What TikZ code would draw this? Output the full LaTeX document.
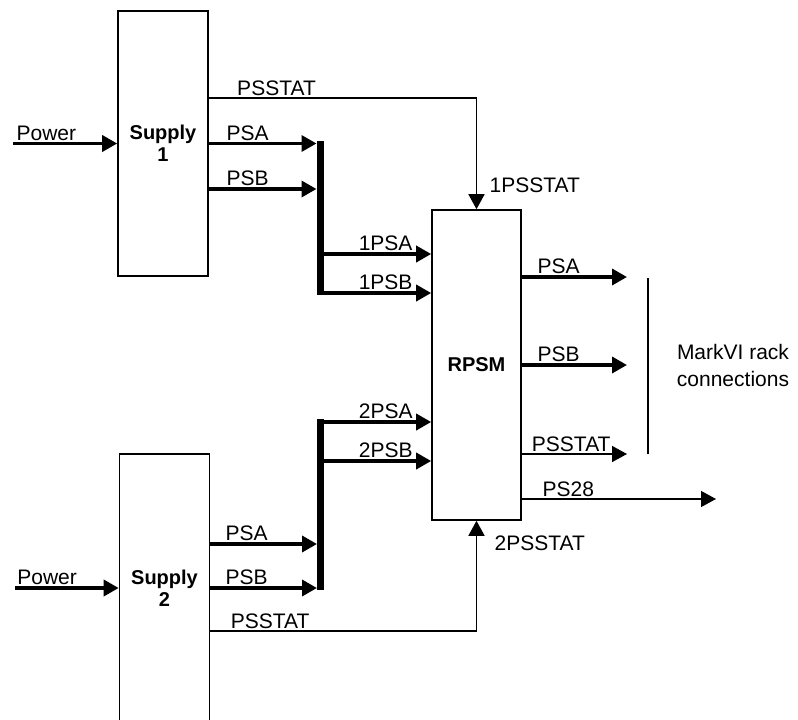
\documentclass[tikz,border=0pt]{standalone}
\usepackage{fontspec}
\setmainfont{Liberation Sans}
\usetikzlibrary{arrows.meta,positioning}
\tikzset{
  unitbox/.style={draw,line width=1.6pt,minimum width=90pt,inner sep=0pt,align=center,font=\bfseries\fontsize{20}{22}\selectfont},
  sigline/.style={line width=3.5pt,-{Triangle[length=15pt,width=16pt]}},
  statline/.style={line width=1.6pt,-{Triangle[length=15pt,width=16pt]}},
  busline/.style={line width=7pt},
  lbl/.style={font=\fontsize{21}{27}\selectfont,inner sep=1.5pt,above}
}

\begin{document}
\begin{tikzpicture}[x=1pt,y=-1pt]
\clip (0,0) rectangle (798,720);
\node[unitbox,minimum height=265pt] (s1) at (163,143.5) {Supply\\1};
\node[unitbox,minimum height=268pt] (s2) at (164.5,588) {Supply\\2};
\node[unitbox,minimum width=89pt,minimum height=310pt] (rpsm) at (476.5,365) {RPSM};
% supply 1
\coordinate (pw1) at (13,143.5);
\draw[sigline] (pw1) -- node[lbl,pos=.32] (lpw1) {Power} (s1.west);
\coordinate (st1) at (300,98);
\draw[statline] (s1.east |- st1) -- node[lbl,pos=.253] (lst1) {PSSTAT} (rpsm.north |- st1) -- (rpsm.north);
\node[lbl,above right=15pt and 11.5pt of rpsm.north] (l1st) {1PSSTAT};
\coordinate (b1top) at (320,141);
\coordinate (b1bot) at (320,295);
\draw[busline] (b1top) -- (b1bot);
\draw[sigline,shorten >=3.5pt] (s1.east) -- node[lbl,pos=.35] (l1a) {PSA} (s1.east -| b1top);
\coordinate (b1b) at (320,189);
\draw[sigline,shorten >=3.5pt] (s1.east |- b1b) -- node[lbl,pos=.35] (l1b) {PSB} (b1b);
\coordinate (b1c) at (320,254);
\draw[sigline] (b1c) -- node[lbl,pos=.59] (l1pa) {1PSA} (b1c -| rpsm.west);
\coordinate (b1d) at (320,293);
\draw[sigline] (b1d) -- node[lbl,pos=.59] (l1pb) {1PSB} (b1d -| rpsm.west);
% supply 2
\coordinate (pw2) at (15,588);
\draw[sigline] (pw2) -- node[lbl,pos=.31] (lpw2) {Power} (s2.west);
\coordinate (st2) at (300,631);
\draw[statline] (s2.east |- st2) -- node[lbl,pos=.225] (lst2) {PSSTAT} (rpsm.south |- st2) -- (rpsm.south);
\node[lbl,below right=13pt and 16.5pt of rpsm.south] (l2st) {2PSSTAT};
\coordinate (b2top) at (320.5,419);
\coordinate (b2bot) at (320.5,590);
\draw[busline] (b2top) -- (b2bot);
\coordinate (b2c) at (320.5,544);
\draw[sigline,shorten >=3.5pt] (s2.east |- b2c) -- node[lbl,pos=.33] (l2a) {PSA} (b2c);
\draw[sigline,shorten >=3.5pt] (s2.east) -- node[lbl,pos=.33] (l2b) {PSB} (s2.east -| b2top);
\coordinate (b2a) at (320.5,422);
\draw[sigline] (b2a) -- node[lbl,pos=.59] (l2pa) {2PSA} (b2a -| rpsm.west);
\coordinate (b2b) at (320.5,461);
\draw[sigline] (b2b) -- node[lbl,pos=.59] (l2pb) {2PSB} (b2b -| rpsm.west);
% rack side
\coordinate (oa) at (627,277);
\draw[sigline] (rpsm.east |- oa) -- node[lbl,pos=.35] (loa) {PSA} (oa);
\coordinate (ob) at (627,365);
\draw[sigline] (rpsm.east) -- node[lbl,pos=.35] (lob) {PSB} (ob);
\coordinate (os) at (627,454);
\draw[statline] (rpsm.east |- os) -- node[lbl,pos=.47] (los) {PSSTAT} (os);
\coordinate (o28) at (716,499);
\draw[statline,line width=1.3pt] (rpsm.east |- o28) -- node[lbl,pos=.24] (l28) {PS28} (o28);
\coordinate (mktop) at (648,278);
\coordinate (mkbot) at (648,454);
\draw[line width=1.6pt] (mktop) -- (mkbot);
\node[font=\fontsize{21}{27}\selectfont,align=center] (mk) at (733,365) {MarkVI rack\\connections};
\end{tikzpicture}
\end{document}
